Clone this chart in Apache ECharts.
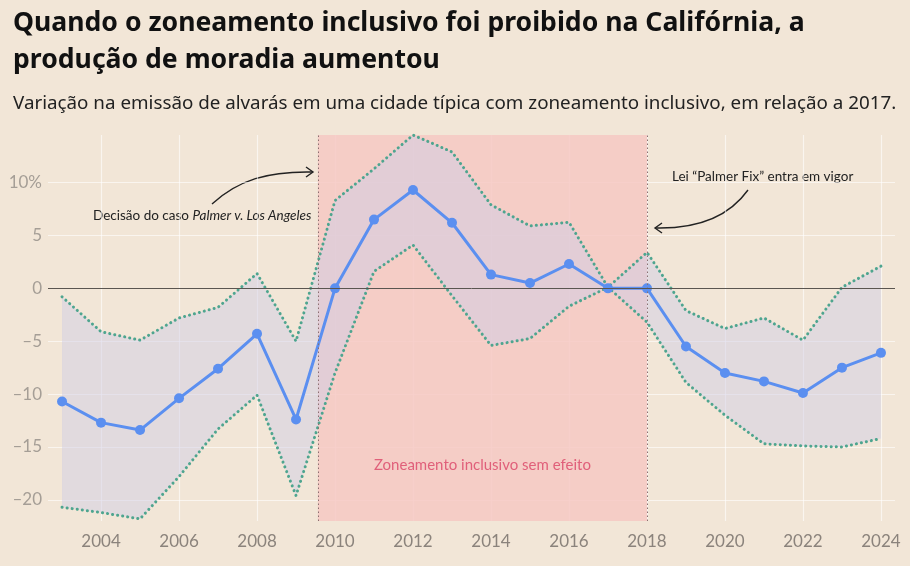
<!DOCTYPE html>
<html>
<head>
<meta charset="utf-8">
<script src="https://cdn.jsdelivr.net/npm/echarts@6/dist/echarts.min.js"></script>
<style>
    html, body { margin: 0; padding: 0; background: #f2e6d7; }
    #mainChart { width: 910px; height: 566px; }
</style>
</head>
<body>
<div id="mainChart"></div>
<script>
var years = [2003, 2004, 2005, 2006, 2007, 2008, 2009, 2010, 2011, 2012, 2013, 2014, 2015, 2016, 2017, 2018, 2019, 2020, 2021, 2022, 2023, 2024];
var change = [-10.7, -12.7, -13.4, -10.4, -7.6, -4.3, -12.4, 0, 6.5, 9.3, 6.2, 1.3, 0.5, 2.3, 0, 0, -5.5, -8.0, -8.8, -9.9, -7.5, -6.1];
var upper = [-0.8, -4.1, -4.9, -2.8, -1.8, 1.4, -5.0, 8.3, 11.3, 14.5, 12.9, 7.9, 5.9, 6.25, 0.1, 3.4, -2.1, -3.8, -2.8, -4.9, 0.1, 2.1];
var lower = [-20.7, -21.2, -21.8, -17.8, -13.3, -10.1, -19.6, -8.0, 1.6, 4.1, -0.7, -5.4, -4.75, -1.7, 0.1, -3.2, -8.9, -12.0, -14.7, -14.9, -15.0, -14.2];
var xTicks = [2004, 2006, 2008, 2010, 2012, 2014, 2016, 2018, 2020, 2022, 2024];
var yTicks = [-20, -15, -10, -5, 0, 5, 10];
var noEffect = [2009.56, 2018];

function pairs(vals) {
    var out = [];
    for (var i = 0; i < years.length; i++) out.push([years[i], vals[i]]);
    return out;
}

var chart = echarts.init(document.getElementById("mainChart"));
var font = "Lato";
var dotted = { color: "#4ea58f", width: 3, type: [0.1, 5], cap: "round" };

chart.setOption({
    backgroundColor: "#f2e6d7",
    animation: false,
    title: [{
        text: "Quando o zoneamento inclusivo foi proibido na Califórnia, a\nprodução de moradia aumentou",
        left: 8, top: 0,
        textStyle: { color: "#111", fontSize: 26.6, fontWeight: "bold", fontFamily: "Noto Sans", lineHeight: 37 }
    }, {
        text: "Variação na emissão de alvarás em uma cidade típica com zoneamento inclusivo, em relação a 2017.",
        left: 8, top: 89,
        textStyle: { color: "#222", fontSize: 18.8, fontWeight: "normal", fontFamily: "Noto Sans" }
    }],
    grid: { left: 48, right: 15, top: 135, bottom: 45 },
    xAxis: {
        type: "value", min: 2002.64, max: 2024.36,
        axisLine: { show: false },
        axisTick: { show: false, customValues: xTicks },
        axisLabel: {
            customValues: xTicks, color: "#8b837c", fontSize: 17, fontFamily: font, margin: 12,
            formatter: function (v) { return String(v); }
        },
        splitLine: { show: true, lineStyle: { color: "rgba(255,255,255,0.6)", width: 1.2 } }
    },
    yAxis: {
        type: "value", min: -22, max: 14.5,
        axisLine: { show: false },
        axisTick: { show: false, customValues: yTicks },
        axisLabel: {
            customValues: yTicks, color: "#a59e96", fontSize: 17, fontFamily: font, margin: 6,
            formatter: function (v) {
                if (v == 10) return "10%";
                if (v < 0) return "\u2013" + (-v);
                return "" + v;
            }
        },
        splitLine: { show: true, lineStyle: { color: "rgba(255,255,255,0.6)", width: 1.2 } }
    },
    series: [{
        // carries the shaded period and the reference lines
        name: "periodo", type: "line", z: 0, silent: true,
        data: [[noEffect[0], 0], [noEffect[1], 0]], symbol: "none", lineStyle: { opacity: 0 },
        markArea: {
            silent: true,
            itemStyle: { color: "rgba(246,200,195,0.85)" },
            label: {
                show: true, position: "insideBottom", distance: 48,
                color: "#e0607a", fontSize: 15, fontFamily: font
            },
            data: [[{ name: "Zoneamento inclusivo sem efeito", xAxis: noEffect[0] }, { xAxis: noEffect[1] }]]
        },
        markLine: {
            silent: true, symbol: "none", label: { show: false },
            data: [
                { xAxis: noEffect[0], lineStyle: { color: "#8a7070", type: [1.5, 2.5], width: 1 } },
                { xAxis: noEffect[1], lineStyle: { color: "#8a7070", type: [1.5, 2.5], width: 1 } },
                { yAxis: 0, lineStyle: { color: "#5a5550", type: "solid", width: 1 } }
            ]
        }
    }, {
        name: "faixa", type: "custom", z: 2, silent: true,
        data: pairs(upper),
        encode: { x: 0, y: 1 },
        renderItem: function (params, api) {
            if (params.dataIndex !== 0) return null;
            var pts = [], i;
            for (i = 0; i < years.length; i++) pts.push(api.coord([years[i], upper[i]]));
            for (i = years.length - 1; i >= 0; i--) pts.push(api.coord([years[i], lower[i]]));
            return { type: "polygon", shape: { points: pts }, style: { fill: "rgba(207,206,230,0.5)" } };
        }
    }, {
        name: "upper", type: "line", z: 3, data: pairs(upper), symbol: "none", lineStyle: dotted
    }, {
        name: "lower", type: "line", z: 3, data: pairs(lower), symbol: "none", lineStyle: dotted
    }, {
        name: "change", type: "line", z: 4, data: pairs(change),
        symbol: "circle", symbolSize: 10,
        lineStyle: { color: "#5b8ff0", width: 3 },
        itemStyle: { color: "#5b8ff0" }
    }],
    graphic: [{
        type: "text", left: 93, top: 209,
        style: {
            text: "Decisão do caso {i|Palmer v. Los Angeles}",
            fill: "#222", fontSize: 13.5, fontFamily: font,
            rich: { i: { fontStyle: "italic", fontSize: 13.5, fontFamily: font, fill: "#222" } }
        }
    }, {
        type: "bezierCurve",
        shape: { x1: 212, y1: 204, cpx1: 238, cpy1: 180, cpx2: 268, cpy2: 171, x2: 313, y2: 172 },
        style: { stroke: "#222", lineWidth: 1.4, fill: null }
    }, {
        type: "polyline",
        shape: { points: [[306, 167], [313, 172], [306, 177]] },
        style: { stroke: "#222", lineWidth: 1.4, fill: null }
    }, {
        type: "text", left: 672, top: 170,
        style: { text: "Lei \u201cPalmer Fix\u201d entra em vigor", fill: "#222", fontSize: 13.5, fontFamily: font }
    }, {
        type: "bezierCurve",
        shape: { x1: 748, y1: 190, cpx1: 728, cpy1: 218, cpx2: 695, cpy2: 229, x2: 655, y2: 228 },
        style: { stroke: "#222", lineWidth: 1.4, fill: null }
    }, {
        type: "polyline",
        shape: { points: [[662, 223], [655, 228], [662, 233]] },
        style: { stroke: "#222", lineWidth: 1.4, fill: null }
    }]
});
</script>
</body>
</html>
